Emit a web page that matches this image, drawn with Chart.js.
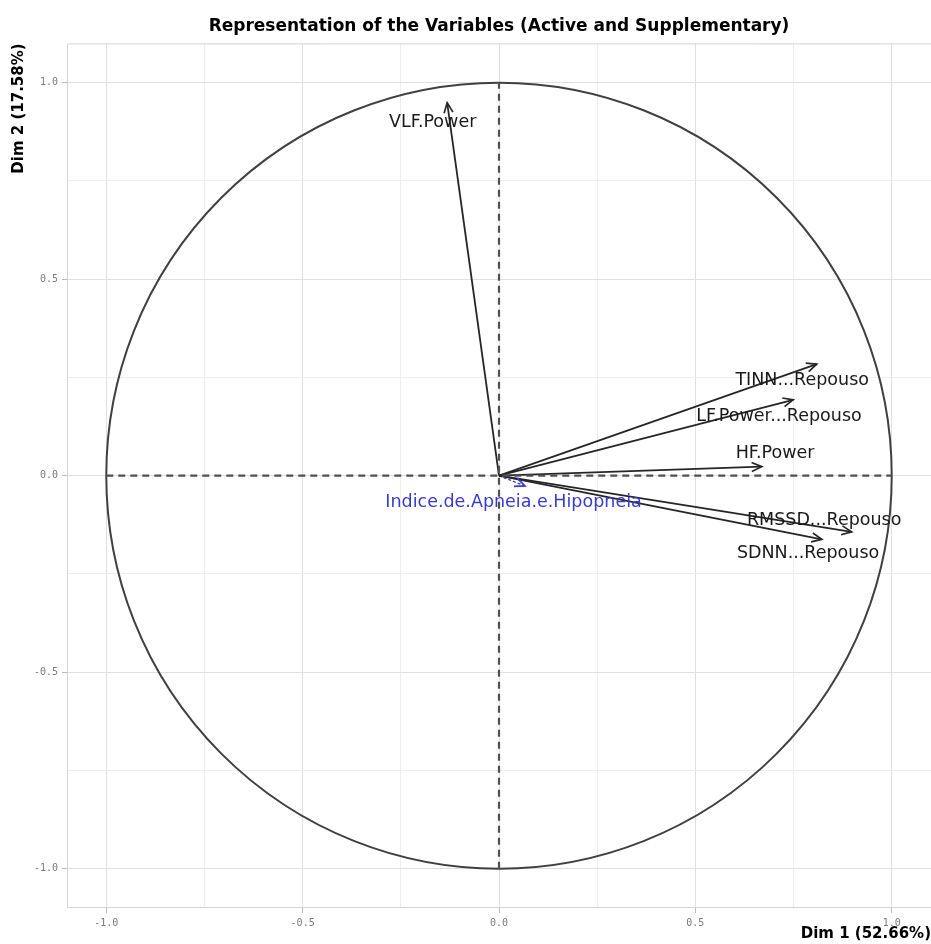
<!DOCTYPE html>
<html>
<head>
<meta charset="utf-8">
<title>Representation of the Variables</title>
<script src="https://cdn.jsdelivr.net/npm/chart.js@4.4.1/dist/chart.umd.min.js"></script>
<style>
  html, body { margin: 0; padding: 0; background: #fff; }
  canvas { display: block; }
</style>
</head>
<body>
<canvas id="varMap" width="931" height="944"></canvas>
<script>
// active variables (coordinates on Dim 1 / Dim 2)
const activeVars = ['VLF.Power', 'TINN...Repouso', 'LF.Power...Repouso', 'HF.Power', 'RMSSD...Repouso', 'SDNN...Repouso'];
const activeDim1 = [-0.132, 0.809, 0.749, 0.669, 0.898, 0.822];
const activeDim2 = [0.949, 0.284, 0.193, 0.023, -0.143, -0.162];
// where the text labels sit (data units)
const activeLabelDim1 = [-0.169, 0.772, 0.713, 0.703, 0.828, 0.787];
const activeLabelDim2 = [0.900, 0.243, 0.152, 0.057, -0.113, -0.197];

// supplementary variable
const suppVars = ['Indice.de.Apneia.e.Hipopneia'];
const suppDim1 = [0.066];
const suppDim2 = [-0.026];
const suppLabelDim1 = [0.037];
const suppLabelDim2 = [-0.067];

const tickValues = [-1, -0.75, -0.5, -0.25, 0, 0.25, 0.5, 0.75, 1];
const majorTicks = [-1, -0.5, 0, 0.5, 1];

const isMajor = v => majorTicks.some(m => Math.abs(m - v) < 1e-9);

const activeColor = '#262626';
const suppColor = '#3a3ad0';

const datasets = [];
// dashed reference axes
datasets.push({
  data: [{x: -1, y: 0}, {x: 1, y: 0}], showLine: true, pointRadius: 0,
  borderColor: '#505050', borderWidth: 2.2, borderDash: [7, 5], kind: 'ref'
});
datasets.push({
  data: [{x: 0, y: -1}, {x: 0, y: 1}], showLine: true, pointRadius: 0,
  borderColor: '#505050', borderWidth: 2.2, borderDash: [7, 5], kind: 'ref'
});
activeVars.forEach((name, i) => {
  datasets.push({
    label: name,
    data: [{x: 0, y: 0}, {x: activeDim1[i], y: activeDim2[i]}],
    showLine: true, pointRadius: 0, borderColor: activeColor, borderWidth: 1.8,
    kind: 'arrow', labelX: activeLabelDim1[i], labelY: activeLabelDim2[i]
  });
});
suppVars.forEach((name, i) => {
  datasets.push({
    label: name,
    data: [{x: 0, y: 0}, {x: suppDim1[i], y: suppDim2[i]}],
    showLine: true, pointRadius: 0, borderColor: suppColor, borderWidth: 1.4,
    borderDash: [3, 2], kind: 'arrow', labelX: suppLabelDim1[i], labelY: suppLabelDim2[i]
  });
});

// panel border + correlation circle
const circlePlugin = {
  id: 'circle',
  beforeDatasetsDraw(chart) {
    const {ctx, chartArea, scales: {x, y}} = chart;
    ctx.save();
    ctx.strokeStyle = '#d4d4d4';
    ctx.lineWidth = 1;
    ctx.beginPath();
    ctx.moveTo(chartArea.right, chartArea.top + 0.5);
    ctx.lineTo(chartArea.left + 0.5, chartArea.top + 0.5);
    ctx.lineTo(chartArea.left + 0.5, chartArea.bottom - 0.5);
    ctx.lineTo(chartArea.right, chartArea.bottom - 0.5);
    ctx.stroke();
    const cx = x.getPixelForValue(0), cy = y.getPixelForValue(0);
    const rx = x.getPixelForValue(1) - cx, ry = cy - y.getPixelForValue(1);
    ctx.beginPath();
    ctx.ellipse(cx, cy, rx, ry, 0, 0, Math.PI * 2);
    ctx.strokeStyle = '#404040';
    ctx.lineWidth = 2;
    ctx.stroke();
    ctx.restore();
  }
};

// arrow heads and variable names
const arrowPlugin = {
  id: 'arrows',
  afterDatasetsDraw(chart) {
    const {ctx, scales: {x, y}} = chart;
    ctx.save();
    chart.data.datasets.forEach((ds, i) => {
      if (ds.kind !== 'arrow') return;
      const pts = chart.getDatasetMeta(i).data;
      const p0 = pts[0], p1 = pts[1];
      const ang = Math.atan2(p1.y - p0.y, p1.x - p0.x);
      const len = 11, spread = Math.PI / 7.5;
      ctx.setLineDash([]);
      ctx.strokeStyle = ds.borderColor;
      ctx.lineWidth = 1.7;
      ctx.beginPath();
      ctx.moveTo(p1.x - len * Math.cos(ang - spread), p1.y - len * Math.sin(ang - spread));
      ctx.lineTo(p1.x, p1.y);
      ctx.lineTo(p1.x - len * Math.cos(ang + spread), p1.y - len * Math.sin(ang + spread));
      ctx.stroke();

      ctx.fillStyle = ds.borderColor === suppColor ? suppColor : '#1a1a1a';
      ctx.font = '17.5px "DejaVu Sans"';
      ctx.textAlign = 'center';
      ctx.textBaseline = 'middle';
      ctx.fillText(ds.label, x.getPixelForValue(ds.labelX), y.getPixelForValue(ds.labelY));
    });
    ctx.restore();
  }
};

function axisOptions(title, isX) {
  return {
    type: 'linear',
    min: -1.1,
    max: 1.1,
    afterBuildTicks: scale => { scale.ticks = tickValues.map(v => ({value: v})); },
    afterFit: scale => {
      if (isX) scale.height = 36; else scale.width = 67;
    },
    grid: {
      color: c => isMajor(c.tick.value) ? '#e0e0e0' : '#eeeeee',
      tickColor: c => isMajor(c.tick.value) ? '#bdbdbd' : 'rgba(0,0,0,0)',
      tickLength: 5,
      lineWidth: 1
    },
    border: { display: false },
    ticks: {
      autoSkip: false,
      maxRotation: 0,
      padding: 4,
      color: '#7a7a7a',
      font: { family: '"DejaVu Sans Mono"', size: 10 },
      callback: v => isMajor(v) ? v.toFixed(1) : ''
    },
    title: {
      display: true,
      text: title,
      align: 'end',
      color: '#000',
      font: { family: '"DejaVu Sans"', size: 15, weight: 'bold' },
      padding: isX ? { top: 0, bottom: 1 } : { top: 10, bottom: 0 }
    }
  };
}

new Chart(document.getElementById('varMap'), {
  type: 'scatter',
  data: { datasets },
  options: {
    responsive: false,
    animation: false,
    layout: { padding: 0 },
    plugins: {
      legend: { display: false },
      tooltip: { enabled: false },
      title: {
        display: true,
        fullSize: false,
        text: 'Representation of the Variables (Active and Supplementary)',
        color: '#000',
        font: { family: '"DejaVu Sans"', size: 17, weight: 'bold', lineHeight: 1.2 },
        padding: { top: 16, bottom: 7 }
      }
    },
    scales: {
      x: axisOptions('Dim 1 (52.66%)', true),
      y: axisOptions('Dim 2 (17.58%)', false)
    }
  },
  plugins: [circlePlugin, arrowPlugin]
});
</script>
</body>
</html>
